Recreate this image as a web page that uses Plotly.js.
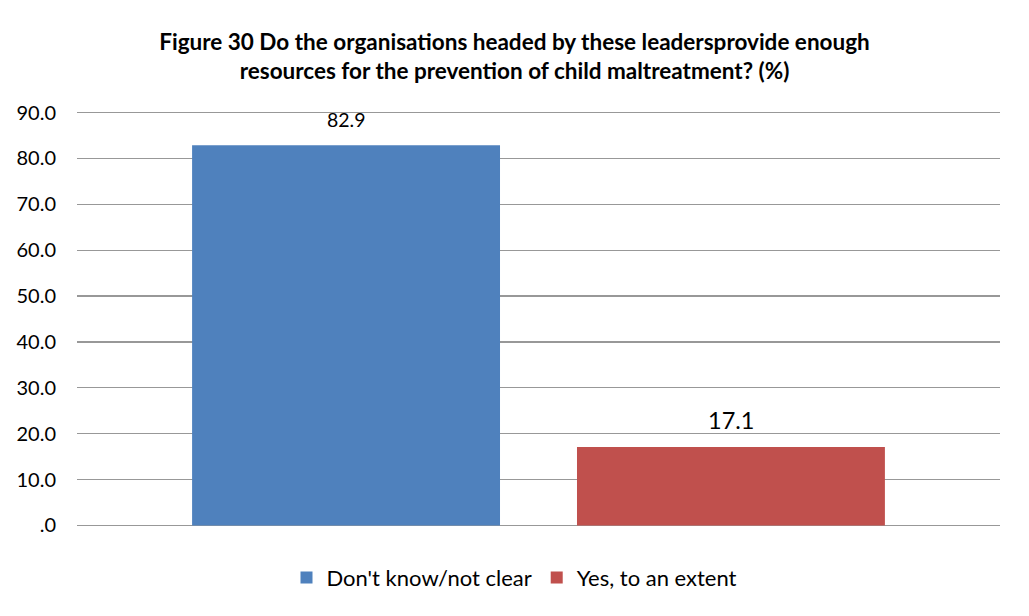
<!DOCTYPE html>
<html>
<head>
<meta charset="utf-8">
<script src="https://cdn.plot.ly/plotly-3.0.1.min.js"></script>
<style>
  html, body { margin: 0; padding: 0; background: #fff; }
  #chart { width: 1029px; height: 616px; outline: 1px solid #8c8c8c; outline-offset: -1px; }
</style>
</head>
<body>
<div id="chart"></div>
<script>
const categories = ["Don't know/not clear", "Yes, to an extent"];
const values = [82.9, 17.1];
const colors = ["#4f81bd", "#c0504d"];
const labelSizes = [19.5, 23.5];
const labelShifts = [26, 27];
const tickVals = [0, 10, 20, 30, 40, 50, 60, 70, 80, 90];
const tickText = [".0", "10.0", "20.0", "30.0", "40.0", "50.0", "60.0", "70.0", "80.0", "90.0"];
const titleText = "Figure 30 Do the organisations headed by these leadersprovide enough<br>resources for the prevention of child maltreatment? (%)";

const FONT = "Lato, 'Open Sans', 'Liberation Sans', sans-serif";

const traces = categories.map((c, i) => ({
  type: "bar",
  name: c,
  x: [c],
  y: [values[i]],
  width: 0.8,
  marker: { color: colors[i] },
  hoverinfo: "skip"
}));

const annotations = categories.map((c, i) => ({
  x: c,
  y: values[i],
  xref: "x",
  yref: "y",
  text: values[i].toFixed(1),
  showarrow: false,
  yanchor: "middle",
  yshift: labelShifts[i],
  font: { family: FONT, size: labelSizes[i], color: "#000" }
}));

const layout = {
  width: 1029,
  height: 616,
  paper_bgcolor: "#fff",
  plot_bgcolor: "#fff",
  margin: { l: 77, r: 29, t: 108, b: 86, pad: 0 },
  font: { family: FONT, color: "#000" },
  title: {
    text: titleText,
    font: { family: FONT, size: 22.5, color: "#000", weight: "bold" },
    x: 0.5,
    xanchor: "center",
    y: 0.919,
    yanchor: "middle"
  },
  barmode: "overlay",
  showlegend: true,
  legend: {
    orientation: "h",
    x: 0.474,
    xanchor: "center",
    y: -0.113,
    yanchor: "middle",
    font: { family: FONT, size: 22, color: "#000" },
    itemwidth: 30,
    traceorder: "normal"
  },
  xaxis: {
    type: "category",
    range: [-0.699, 1.699],
    showticklabels: false,
    showgrid: false,
    zeroline: false,
    showline: false,
    ticks: "",
    fixedrange: true
  },
  yaxis: {
    range: [-1, 91],
    tickvals: tickVals,
    ticktext: tickText,
    showgrid: true,
    gridcolor: "#989898",
    gridwidth: 1.2,
    zeroline: true,
    zerolinecolor: "#989898",
    zerolinewidth: 1.2,
    showline: false,
    ticks: "",
    ticklabelstandoff: 20,
    tickfont: { family: FONT, size: 20, color: "#000" },
    fixedrange: true
  },
  annotations: annotations
};

Plotly.newPlot("chart", traces, layout, { displayModeBar: false, staticPlot: true });
</script>
</body>
</html>
